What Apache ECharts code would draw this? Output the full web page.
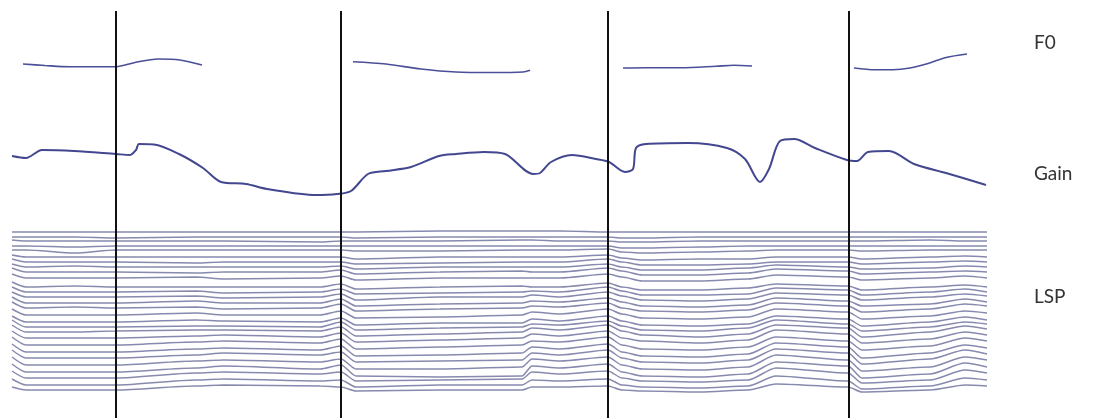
<!DOCTYPE html>
<html>
<head>
<meta charset="utf-8">
<script src="https://cdn.jsdelivr.net/npm/echarts@6/dist/echarts.min.js"></script>
<style>
html,body{margin:0;padding:0;background:#fff;}
#chart{width:1093px;height:420px;}
</style>
</head>
<body>
<div id="chart"></div>
<script>
// ---- Data (frame index on the x axis) ----
const boundaries = [116, 341, 608, 849];
const trackLabels = ['F0', 'Gain', 'LSP'];

// F0 (Hz) voiced segments
const f0Seg1 = [[23,164],[45,158],[70,153],[100,153],[116,153],[135,170],[158,184],[180,180],[202,160]];
const f0Seg2 = [[353,173],[386,164],[421,144],[456,132],[491,130],[523,132],[530,139]];
const f0Seg3 = [[623,148],[646,149],[681,149],[716,155],[734,159],[752,156]];
const f0Seg4 = [[854,148],[875,141],[893,141],[910,148],[928,166],[946,190],[967,204]];

// Gain (dB)
const gainFrames = [12,26,42,74,116,130,136,139,154,179,203,221,246,267,316,337,351,368,386,411,439,456,484,505,533,540,551,572,596,609,625,633,636,646,688,727,745,760,769,780,794,815,847,857,868,889,914,946,963,986];
const gainDb     = [-36,-38,-30,-31,-34,-35,-30,-24,-24.5,-34,-48,-62,-64,-69,-75,-74,-71,-54,-51,-47,-36,-34,-32,-34,-54,-53,-42,-35,-39,-42,-52,-49,-28,-24,-23,-28,-39,-62,-49,-21,-19,-28,-40,-41,-32,-31,-44,-53,-58,-65];

// LSP tracks (Hz), sampled at shared frames
const lspFrames = [12,26,75,116,196,224,320,341,356,440,522,532,560,608,622,642,700,748,776,848,862,930,965,987];
const lspTracks = [
 [4050,4050,4050,4050,4050,4050,4050,4050,4050,4075,4075,4075,4075,4050,4050,4050,4050,4050,4050,4050,4050,4050,4050,4050],
 [3925,3925,3925,3900,3925,3925,3925,3925,3900,3925,3925,3925,3925,3925,3900,3900,3925,3925,3925,3925,3925,3925,3925,3925],
 [3850,3825,3825,3825,3825,3825,3800,3825,3825,3825,3850,3850,3825,3825,3800,3800,3825,3825,3825,3825,3825,3850,3825,3825],
 [3700,3700,3675,3700,3700,3700,3700,3700,3700,3700,3700,3700,3700,3700,3650,3650,3675,3700,3700,3700,3700,3700,3700,3700],
 [3600,3600,3525,3600,3600,3600,3600,3600,3575,3575,3600,3600,3600,3625,3550,3525,3550,3575,3600,3600,3575,3600,3600,3600],
 [3475,3425,3425,3425,3425,3425,3425,3425,3375,3425,3425,3425,3425,3475,3400,3350,3375,3375,3425,3425,3375,3425,3450,3425],
 [3375,3300,3300,3300,3275,3300,3300,3300,3250,3275,3300,3300,3300,3375,3300,3225,3225,3250,3300,3300,3250,3300,3325,3300],
 [3250,3175,3200,3175,3175,3175,3175,3200,3125,3175,3175,3175,3175,3250,3175,3100,3100,3150,3225,3175,3125,3150,3200,3175],
 [3150,3050,3050,3050,3025,3050,3050,3100,3000,3050,3075,3050,3050,3150,3075,2975,2975,3025,3125,3075,3000,3050,3075,3050],
 [3000,2900,2900,2900,2925,2875,2900,2950,2850,2900,2900,2900,2900,3000,2925,2825,2825,2875,2975,2925,2850,2900,2950,2900],
 [2800,2675,2700,2675,2675,2675,2675,2750,2625,2675,2700,2675,2675,2775,2675,2600,2600,2650,2750,2700,2600,2675,2725,2675],
 [2675,2550,2550,2550,2575,2525,2550,2625,2500,2525,2550,2575,2550,2675,2575,2475,2475,2500,2650,2600,2475,2550,2625,2550],
 [2550,2425,2425,2425,2450,2400,2425,2500,2350,2425,2425,2475,2425,2550,2450,2350,2325,2375,2525,2475,2350,2425,2500,2450],
 [2425,2275,2275,2275,2325,2275,2275,2375,2200,2250,2275,2325,2300,2400,2300,2200,2175,2225,2400,2325,2200,2250,2375,2300],
 [2300,2150,2175,2150,2175,2125,2150,2250,2075,2125,2150,2200,2175,2275,2150,2075,2050,2100,2275,2200,2050,2125,2250,2200],
 [2125,1975,1975,1975,2025,1975,1975,2075,1900,1925,1975,2050,2000,2125,2000,1900,1875,1925,2125,2050,1875,1950,2075,2025],
 [1950,1800,1800,1800,1850,1825,1800,1900,1725,1775,1775,1875,1825,1950,1825,1725,1700,1750,1950,1875,1700,1800,1925,1850],
 [1850,1675,1675,1675,1700,1700,1675,1800,1600,1650,1675,1750,1725,1825,1700,1600,1575,1650,1850,1750,1575,1675,1800,1750],
 [1725,1550,1550,1575,1600,1600,1575,1675,1450,1500,1550,1650,1600,1725,1575,1475,1425,1500,1725,1650,1425,1550,1700,1625],
 [1575,1400,1400,1400,1450,1475,1425,1525,1300,1350,1400,1500,1450,1575,1400,1325,1275,1350,1600,1500,1275,1375,1550,1475],
 [1425,1225,1225,1225,1300,1325,1275,1375,1125,1175,1225,1325,1300,1425,1225,1125,1100,1175,1425,1325,1100,1200,1400,1325],
 [1250,1050,1050,1050,1125,1150,1100,1200,950,975,1025,1175,1125,1250,1050,950,925,1000,1275,1175,900,1025,1225,1150],
 [1100,900,900,900,975,1025,975,1050,800,825,850,1025,975,1100,900,800,775,850,1125,1025,750,875,1100,1000],
 [925,725,725,725,825,850,800,875,625,625,675,875,825,925,725,625,600,675,975,850,575,675,925,850],
 [750,550,550,550,650,700,625,725,450,425,450,700,650,750,550,450,425,500,800,700,400,500,775,675],
 [575,400,400,400,525,550,500,550,325,350,375,550,500,575,400,325,300,350,650,525,275,350,600,525],
 [375,225,225,225,350,375,325,350,175,225,225,350,325,375,225,175,150,200,450,325,125,200,400,350],
 [175,100,100,100,200,225,200,175,75,100,100,175,175,200,100,75,50,100,250,175,50,100,225,200]
];

// ---- Build option ----
const f0Data = [].concat(f0Seg1, [[null,null]], f0Seg2, [[null,null]], f0Seg3, [[null,null]], f0Seg4);
const gainData = gainFrames.map((f, i) => [f, gainDb[i]]);

const xAx = (gi) => ({gridIndex: gi, type: 'value', min: 0, max: 1000, show: false});
const series = [];

lspTracks.forEach((tr) => {
  series.push({
    type: 'line', xAxisIndex: 2, yAxisIndex: 2,
    data: lspFrames.map((f, i) => [f, tr[i]]),
    showSymbol: false, smooth: 0.25, smoothMonotone: 'x',
    lineStyle: {color: '#878aae', width: 1.5},
    silent: true, z: 2
  });
});

series.push({
  type: 'line', xAxisIndex: 0, yAxisIndex: 0, data: f0Data,
  showSymbol: false, connectNulls: false, smooth: 0.3,
  lineStyle: {color: '#4b4f98', width: 1.6}, silent: true, z: 3
});
series.push({
  type: 'line', xAxisIndex: 1, yAxisIndex: 1, data: gainData,
  showSymbol: false, smooth: 0.3,
  lineStyle: {color: '#43478f', width: 2}, silent: true, z: 3
});
series.push({
  type: 'line', xAxisIndex: 3, yAxisIndex: 3, data: [],
  markLine: {
    silent: true, symbol: 'none', animation: false,
    label: {show: false},
    lineStyle: {color: '#111', width: 2, type: 'solid'},
    data: boundaries.map(b => ({xAxis: b}))
  }, z: 5
});

const labelY = [45, 176, 299];
const option = {
  backgroundColor: '#ffffff',
  animation: false,
  grid: [
    {left: 0, width: 1000, top: 40, height: 40},
    {left: 0, width: 1000, top: 120, height: 80},
    {left: 0, width: 1000, top: 226, height: 168},
    {left: 0, width: 1000, top: 11, height: 407}
  ],
  xAxis: [xAx(0), xAx(1), xAx(2), xAx(3)],
  yAxis: [
    {gridIndex: 0, type: 'value', min: 100, max: 260, show: false},
    {gridIndex: 1, type: 'value', min: -80, max: 0, show: false},
    {gridIndex: 2, type: 'value', min: 0, max: 4200, show: false},
    {gridIndex: 3, type: 'value', min: 0, max: 1, show: false}
  ],
  graphic: trackLabels.map((t, i) => ({
    type: 'text', left: 1034, top: labelY[i] - 12,
    style: {text: t, fill: '#333', font: '19px Lato'}
  })),
  series: series
};

const chart = echarts.init(document.getElementById('chart'), null, {renderer: 'canvas'});
chart.setOption(option);
</script>
</body>
</html>
